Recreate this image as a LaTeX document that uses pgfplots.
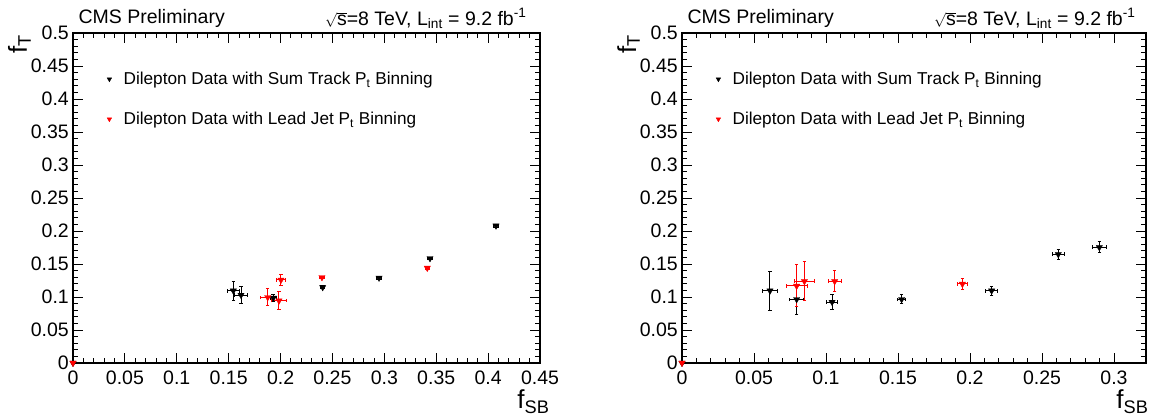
\documentclass[border=0pt]{standalone}
\usepackage{pgfplots}
\pgfplotsset{compat=1.18}
\usepackage{fontspec}
\setmainfont{Liberation Sans}
\newcommand{\fsz}[1]{\fontsize{#1}{#1}\selectfont}
\newcommand{\rts}{{\fsz{15}$\sqrt{\mbox{\fsz{19.5}s}}$}}

\pgfplotsset{
  cms/.style={
    scale only axis, height=330pt,
    ymin=0, ymax=0.5,
    xtick distance=0.05, ytick distance=0.05,
    minor x tick num=4, minor y tick num=4,
    tick align=inside,
    major tick length=10pt, minor tick length=5pt,
    axis line style={line width=1.3pt},
    every tick/.style={black, line width=0.9pt},
    tick label style={font=\fsz{19.5}, inner sep=0pt},
    xticklabel style={anchor=north, yshift=-8pt},
    yticklabel style={anchor=east, xshift=-4pt},
    /pgf/number format/assume math mode=true,
    /pgf/number format/fixed, /pgf/number format/precision=2,
    clip=false,
    legend cell align=left,
    legend style={draw=none, fill=none, font=\fsz{17.2}, row sep=22pt,
      inner sep=0pt, anchor=north west, at={(rel axis cs:0,1)},
      xshift=33pt, yshift=-37pt},
    legend image code/.code={\draw[mark size=2.6pt] plot coordinates {(0cm,0cm)}; \path (-3pt,0pt) (12pt,0pt);},
  },
  blk/.style={only marks, black, mark=triangle*, mark size=3.6pt,
    mark options={rotate=180, fill=black, draw=black},
    error bars/.cd, x dir=both, x explicit, y dir=both, y explicit,
    error bar style={line width=1pt, black},
    error mark options={rotate=90, mark size=1.8pt, line width=1pt, black}},
  rd/.style={only marks, red, mark=triangle*, mark size=3.6pt,
    mark options={rotate=180, fill=red, draw=red},
    error bars/.cd, x dir=both, x explicit, y dir=both, y explicit,
    error bar style={line width=1pt, red},
    error mark options={rotate=90, mark size=1.8pt, line width=1pt, red}},
}

\pgfplotstableread{
x y ex ey
0 0 0 0
0.1545 0.1095 0.006 0.0144
0.1619 0.1030 0.006 0.0124
0.1930 0.0985 0.003 0.0060
0.2406 0.1147 0.002 0.002
0.2949 0.1290 0.002 0.002
0.3440 0.1586 0.002 0.002
0.4076 0.2080 0.002 0.002
}\leftblack
\pgfplotstableread{
x y ex ey
0 0 0 0
0.1876 0.0995 0.0069 0.0130
0.1985 0.0944 0.0075 0.0134
0.2004 0.1258 0.0043 0.0083
0.2399 0.1298 0.002 0.002
0.3414 0.1440 0.002 0.002
}\leftred
\pgfplotstableread{
x y ex ey
0 0 0 0
0.0611 0.1095 0.0051 0.0295
0.0796 0.0965 0.0051 0.0227
0.1042 0.0924 0.0037 0.0119
0.1525 0.0965 0.0028 0.0068
0.2150 0.1095 0.0040 0.0068
0.2613 0.1647 0.0040 0.0076
0.2898 0.1753 0.0050 0.0083
}\rightblack
\pgfplotstableread{
x y ex ey
0 0 0 0
0.0796 0.1167 0.0073 0.0318
0.0850 0.1238 0.0067 0.0293
0.1060 0.1238 0.0046 0.0162
0.1947 0.1197 0.0035 0.0076
}\rightred

\begin{document}
\begin{tikzpicture}[x=1pt,y=1pt]
\path[use as bounding box] (0,0) rectangle (1162,417);

\begin{axis}[cms, at={(73pt,54pt)}, anchor=south west, width=467pt, xmin=0, xmax=0.45]
\addplot+[blk] table[x=x, y=y, x error=ex, y error=ey] {\leftblack};
\addlegendentry{Dilepton Data with Sum Track P\textsubscript{t} Binning}
\addplot+[rd] table[x=x, y=y, x error=ex, y error=ey] {\leftred};
\addlegendentry{Dilepton Data with Lead Jet P\textsubscript{t} Binning}
\end{axis}

\begin{axis}[cms, at={(682pt,54pt)}, anchor=south west, width=464pt, xmin=0, xmax=0.3222]
\addplot+[blk] table[x=x, y=y, x error=ex, y error=ey] {\rightblack};
\addlegendentry{Dilepton Data with Sum Track P\textsubscript{t} Binning}
\addplot+[rd] table[x=x, y=y, x error=ex, y error=ey] {\rightred};
\addlegendentry{Dilepton Data with Lead Jet P\textsubscript{t} Binning}
\end{axis}

% titles and labels
\node[anchor=base west, font=\fsz{19.5}] at (75,393) {CMS Preliminary};
\node[anchor=base east, font=\fsz{19.5}] at (530,391.5) {\rts=8 TeV, L\textsubscript{int} = 9.2 fb\textsuperscript{-1}};
\node[anchor=base west, font=\fsz{19.5}] at (684,393) {CMS Preliminary};
\node[anchor=base east, font=\fsz{19.5}] at (1139,391.5) {\rts=8 TeV, L\textsubscript{int} = 9.2 fb\textsuperscript{-1}};

\node[anchor=base east, font=\fsz{26}] at (553,8) {f\textsubscript{SB}};
\node[anchor=base east, font=\fsz{26}] at (1152,8) {f\textsubscript{SB}};
\node[anchor=base east, rotate=90, font=\fsz{26}] at (27,386) {f\textsubscript{T}};
\node[anchor=base east, rotate=90, font=\fsz{26}] at (636,386) {f\textsubscript{T}};
\end{tikzpicture}
\end{document}
